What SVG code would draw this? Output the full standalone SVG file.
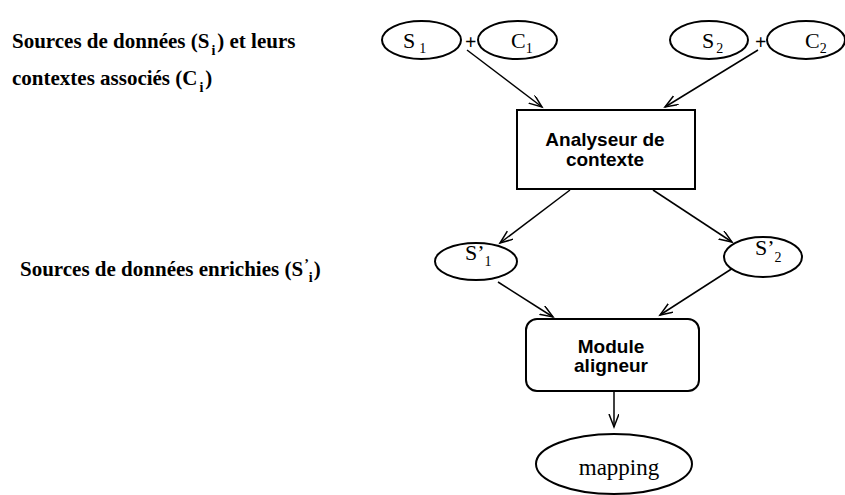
<svg xmlns="http://www.w3.org/2000/svg" width="845" height="495" viewBox="0 0 845 495">
  <defs>
    <marker id="arrow" markerUnits="userSpaceOnUse" markerWidth="16" markerHeight="12" refX="13" refY="5" orient="auto">
      <path d="M0,0 L13,5 L0,10" fill="none" stroke="#000" stroke-width="1.5"/>
    </marker>
  </defs>
  <style>
    .note { font-family: "Liberation Serif", "Times New Roman", serif; font-weight: bold; font-size: 21px; fill: #000; }
    .lbl { font-family: "Liberation Serif", "Times New Roman", serif; font-size: 22px; fill: #000; }
    .sub { font-size: 14px; }
    .box { font-family: "Liberation Sans", Arial, sans-serif; font-weight: bold; font-size: 19px; fill: #000; text-anchor: middle; }
    .shape { fill: #fff; stroke: #000; stroke-width: 2; }
    .edge { fill: none; stroke: #000; stroke-width: 1.5; marker-end: url(#arrow); }
  </style>

  <rect width="845" height="495" fill="#fff"/>

  <!-- side notes -->
  <g id="notes">
    <text class="note" x="12" y="48">Sources de données (S<tspan class="sub" dx="2" dy="7">i</tspan><tspan dy="-7" dx="2">) et leurs</tspan></text>
    <text class="note" x="12" y="85">contextes associés (C<tspan class="sub" dx="2" dy="7">i</tspan><tspan dy="-7" dx="2">)</tspan></text>
    <text class="note" x="20" y="276">Sources de données enrichies (S<tspan class="sub" dx="1" dy="-7">’</tspan><tspan class="sub" dx="0" dy="13">i</tspan><tspan dy="-6" dx="1">)</tspan></text>
  </g>

  <!-- connectors -->
  <g id="connectors">
    <line class="edge" x1="467" y1="50" x2="542" y2="107"/>
    <line class="edge" x1="758" y1="50" x2="665" y2="107"/>
    <line class="edge" x1="570" y1="190" x2="500" y2="243"/>
    <line class="edge" x1="653" y1="190" x2="732" y2="242"/>
    <line class="edge" x1="498" y1="282" x2="553" y2="317"/>
    <line class="edge" x1="733" y1="268" x2="660" y2="315"/>
    <line class="edge" x1="614" y1="390" x2="614" y2="427"/>
  </g>

  <!-- sources and contexts -->
  <g id="S1">
    <ellipse class="shape" cx="421.5" cy="40" rx="39.5" ry="19"/>
    <text class="lbl" x="403" y="48">S<tspan class="sub" dx="4" dy="5">1</tspan></text>
  </g>
  <g id="plus1">
    <text class="lbl" x="465" y="49" style="font-weight:bold;font-size:20px">+</text>
  </g>
  <g id="C1">
    <ellipse class="shape" cx="517.5" cy="40" rx="39.5" ry="19"/>
    <text class="lbl" x="511" y="48">C<tspan class="sub" dx="0" dy="5">1</tspan></text>
  </g>
  <g id="S2">
    <ellipse class="shape" cx="709" cy="40" rx="39" ry="19"/>
    <text class="lbl" x="702" y="48">S<tspan class="sub" dx="2" dy="5">2</tspan></text>
  </g>
  <g id="plus2">
    <text class="lbl" x="755" y="49" style="font-weight:bold;font-size:20px">+</text>
  </g>
  <g id="C2">
    <ellipse class="shape" cx="806" cy="40" rx="39" ry="19"/>
    <text class="lbl" x="805" y="48">C<tspan class="sub" dx="0" dy="5">2</tspan></text>
  </g>

  <!-- context analyser -->
  <g id="analyseur">
    <rect class="shape" x="517" y="110" width="178" height="79"/>
    <text class="box" x="605" y="146">Analyseur de</text>
    <text class="box" x="605" y="166">contexte</text>
  </g>

  <!-- enriched sources -->
  <g id="S1prime">
    <ellipse class="shape" cx="476" cy="261.5" rx="41" ry="18.5"/>
    <text class="lbl" x="465" y="260">S’<tspan class="sub" dx="0" dy="6">1</tspan></text>
  </g>
  <g id="S2prime">
    <ellipse class="shape" cx="763" cy="257" rx="39" ry="20"/>
    <text class="lbl" x="755" y="255">S’<tspan class="sub" dx="0" dy="7">2</tspan></text>
  </g>

  <!-- aligner -->
  <g id="aligneur">
    <rect class="shape" x="526" y="319" width="173" height="72" rx="11" ry="11"/>
    <text class="box" x="611" y="353">Module</text>
    <text class="box" x="611" y="372">aligneur</text>
  </g>

  <!-- result -->
  <g id="mapping">
    <ellipse class="shape" cx="614" cy="464" rx="78" ry="30"/>
    <text class="lbl" x="619" y="475" style="font-size:23px;text-anchor:middle">mapping</text>
  </g>
</svg>
